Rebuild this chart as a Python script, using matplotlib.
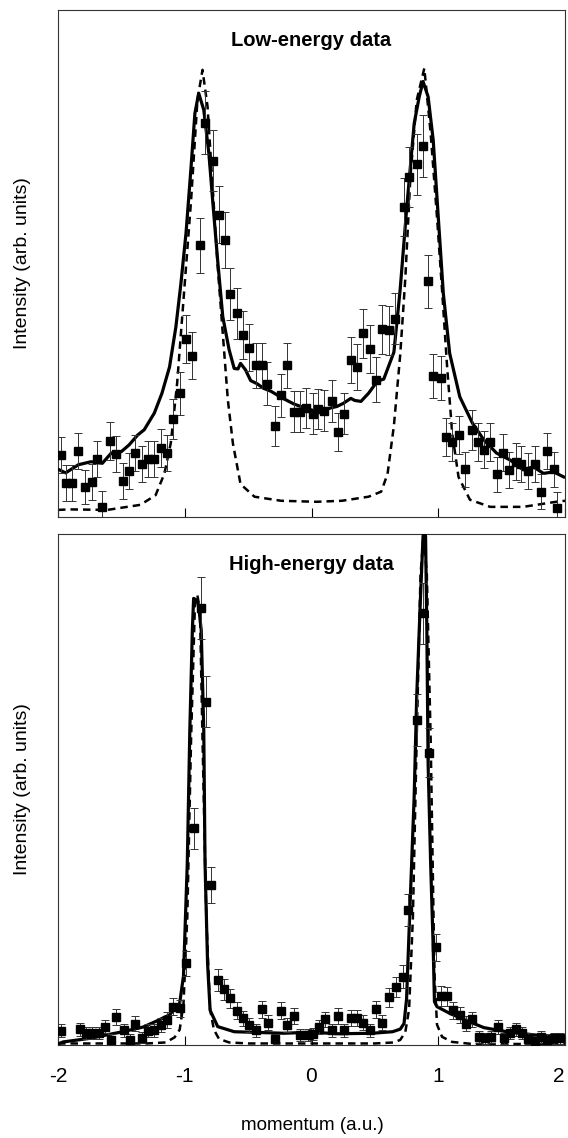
import numpy as np
import matplotlib
matplotlib.use('Agg')
import matplotlib.pyplot as plt

plt.rcParams['font.family'] = ['Liberation Sans', 'DejaVu Sans']

# ── Low-energy panel: measured points (momentum, intensity, error) ──
low_x = [-1.98, -1.94, -1.89, -1.84, -1.79, -1.73, -1.69, -1.65, -1.59, -1.54,
         -1.49, -1.44, -1.39, -1.34, -1.29, -1.24, -1.19, -1.14, -1.09, -1.04,
         -0.99, -0.94, -0.88, -0.84, -0.78, -0.73, -0.68, -0.64, -0.59, -0.54,
         -0.49, -0.44, -0.39, -0.35, -0.29, -0.24, -0.19, -0.14, -0.09, -0.04,
         0.01, 0.05, 0.10, 0.16, 0.21, 0.26, 0.31, 0.36, 0.41, 0.46,
         0.51, 0.56, 0.61, 0.66, 0.73, 0.77, 0.83, 0.88, 0.92, 0.96,
         1.02, 1.06, 1.11, 1.16, 1.21, 1.27, 1.31, 1.36, 1.41, 1.46,
         1.51, 1.56, 1.61, 1.65, 1.71, 1.76, 1.81, 1.86, 1.91, 1.94]
low_y = [12.2, 6.7, 6.7, 13.0, 5.9, 6.9, 11.4, 2.0, 15.0, 12.4,
         7.1, 9.1, 12.6, 10.5, 11.4, 11.4, 13.6, 12.6, 19.3, 24.4,
         35.1, 31.8, 53.6, 77.8, 70.3, 59.6, 54.6, 44.0, 40.2, 35.9,
         33.4, 29.9, 29.9, 26.3, 18.0, 24.0, 29.9, 20.8, 20.8, 21.5,
         20.4, 21.3, 21.0, 22.9, 16.8, 20.4, 31.0, 29.6, 36.2, 33.1,
         27.1, 37.0, 36.8, 39.1, 61.2, 67.1, 69.6, 73.2, 46.5, 27.8,
         27.4, 15.8, 14.8, 16.2, 9.4, 17.2, 14.8, 13.3, 14.8, 8.4,
         12.7, 9.3, 10.9, 10.5, 9.1, 10.5, 5.0, 13.0, 9.4, 1.7]
low_err = [3.6, 3.5, 3.5, 3.6, 3.4, 3.5, 3.6, 3.2, 3.8, 3.6,
           3.5, 3.5, 3.6, 3.6, 3.6, 3.6, 3.7, 3.6, 4.0, 4.2,
           4.8, 4.6, 5.4, 6.3, 6.0, 5.6, 5.5, 5.1, 5.0, 4.8,
           4.7, 4.5, 4.5, 4.3, 3.9, 4.2, 4.5, 4.0, 4.0, 4.0,
           4.0, 4.0, 4.0, 4.1, 3.8, 4.0, 4.6, 4.5, 4.8, 4.7,
           4.4, 4.9, 4.9, 5.0, 5.7, 5.9, 6.0, 6.1, 5.2, 4.4,
           4.4, 3.8, 3.8, 3.8, 3.5, 3.9, 3.8, 3.7, 3.8, 3.5,
           3.6, 3.5, 3.6, 3.6, 3.5, 3.6, 3.4, 3.6, 3.5, 3.2]

# full calculation (solid) and free-electron-like model (dashed)
low_fit_x = [-1.99, -1.94, -1.84, -1.74, -1.65, -1.58, -1.50, -1.44, -1.37, -1.32,
             -1.24, -1.18, -1.12, -1.07, -1.03, -0.99, -0.95, -0.92, -0.89, -0.85,
             -0.81, -0.78, -0.74, -0.70, -0.65, -0.61, -0.58, -0.56, -0.52, -0.48,
             -0.43, -0.38, -0.32, -0.24, -0.14, -0.03, 0.05, 0.15, 0.20, 0.25,
             0.31, 0.34, 0.39, 0.45, 0.52, 0.57, 0.65, 0.70, 0.75, 0.81,
             0.85, 0.88, 0.92, 0.96, 1.00, 1.04, 1.09, 1.17, 1.27, 1.36,
             1.46, 1.57, 1.67, 1.75, 1.83, 1.91, 1.99]
low_fit_y = [9.3, 8.7, 10.3, 10.9, 10.6, 12.6, 12.9, 14.2, 16.2, 17.2,
             20.5, 24.4, 29.6, 37.5, 46.1, 56.0, 69.1, 79.6, 83.6, 80.3,
             71.8, 62.5, 50.5, 39.5, 33.0, 29.3, 29.2, 30.3, 29.0, 26.9,
             26.3, 25.4, 24.8, 23.6, 22.3, 21.3, 20.8, 21.5, 21.8, 22.4,
             23.4, 23.0, 22.8, 24.4, 26.8, 27.2, 32.5, 45.0, 60.6, 77.6,
             82.9, 85.9, 82.9, 74.4, 59.2, 44.1, 32.3, 23.7, 18.5, 15.2,
             12.6, 11.2, 9.3, 9.9, 8.6, 8.9, 7.9]
low_mod_x = [-2.0, -1.91, -1.61, -1.35, -1.23, -1.16, -1.11, -1.06, -1.01, -0.95,
             -0.90, -0.86, -0.82, -0.78, -0.74, -0.70, -0.66, -0.62, -0.56, -0.45,
             -0.24, 0.04, 0.24, 0.45, 0.55, 0.60, 0.65, 0.70, 0.74, 0.78,
             0.83, 0.89, 0.94, 0.99, 1.03, 1.07, 1.11, 1.16, 1.25, 1.41,
             1.67, 1.93, 2.0]
low_mod_y = [1.4, 1.5, 1.4, 2.4, 4.3, 8.6, 14.6, 26.4, 42.8, 62.5,
             82.2, 88.2, 80.9, 65.1, 49.4, 36.2, 23.1, 14.5, 6.5, 4.0,
             3.2, 3.0, 3.2, 4.0, 5.0, 8.5, 18.0, 32.0, 47.0, 67.0,
             82.2, 88.5, 75.7, 59.2, 44.8, 29.6, 16.5, 7.9, 3.4, 2.0,
             2.0, 3.0, 3.2]

# ── High-energy panel ──
high_x = [-1.98, -1.83, -1.78, -1.73, -1.68, -1.63, -1.58, -1.54, -1.48, -1.43,
          -1.39, -1.34, -1.29, -1.24, -1.19, -1.14, -1.09, -1.04, -0.99, -0.93,
          -0.87, -0.83, -0.79, -0.74, -0.69, -0.64, -0.59, -0.54, -0.49, -0.44,
          -0.39, -0.34, -0.29, -0.24, -0.19, -0.14, -0.09, -0.03, 0.01, 0.06,
          0.11, 0.16, 0.21, 0.26, 0.31, 0.36, 0.41, 0.46, 0.51, 0.56,
          0.61, 0.67, 0.72, 0.76, 0.83, 0.88, 0.93, 0.98, 1.02, 1.07,
          1.12, 1.17, 1.22, 1.27, 1.32, 1.37, 1.42, 1.47, 1.52, 1.57,
          1.61, 1.66, 1.71, 1.76, 1.81, 1.86, 1.91, 1.96]
high_y = [2.8, 3.1, 2.3, 2.3, 2.3, 3.6, 1.0, 5.5, 2.9, 1.0,
          4.2, 1.4, 2.8, 2.9, 3.9, 4.9, 7.5, 7.2, 16.0, 42.4,
          85.5, 67.2, 31.3, 12.7, 10.9, 9.1, 6.7, 5.2, 3.9, 2.9,
          7.0, 4.4, 1.1, 6.7, 3.9, 5.7, 2.0, 2.0, 2.1, 3.5,
          5.0, 2.9, 5.7, 2.9, 5.3, 5.3, 4.4, 2.9, 7.0, 4.4,
          9.3, 11.3, 13.4, 26.4, 63.6, 84.5, 57.2, 19.1, 9.6, 9.5,
          6.8, 5.9, 4.2, 5.0, 1.6, 1.3, 1.6, 3.5, 1.3, 2.3,
          3.1, 2.4, 1.2, 0.7, 1.6, 1.0, 1.3, 1.3]
high_err = [1.3, 1.3, 1.2, 1.2, 1.2, 1.3, 1.1, 1.5, 1.3, 1.1,
            1.4, 1.1, 1.3, 1.3, 1.4, 1.5, 1.7, 1.7, 2.4, 4.0,
            6.0, 5.0, 3.5, 2.2, 2.0, 1.9, 1.7, 1.5, 1.4, 1.3,
            1.7, 1.4, 1.1, 1.7, 1.4, 1.6, 1.2, 1.2, 1.2, 1.3,
            1.5, 1.3, 1.6, 1.3, 1.5, 1.5, 1.4, 1.3, 1.7, 1.4,
            1.9, 2.0, 2.2, 3.2, 5.0, 6.0, 4.8, 2.6, 1.9, 1.9,
            1.7, 1.6, 1.4, 1.5, 1.2, 1.1, 1.2, 1.3, 1.1, 1.2,
            1.3, 1.2, 1.1, 1.1, 1.2, 1.1, 1.1, 1.1]

high_fit_x = [-1.99, -1.96, -1.75, -1.49, -1.33, -1.23, -1.12, -1.04, -1.01, -0.98,
              -0.96, -0.94, -0.93, -0.90, -0.89, -0.87, -0.85, -0.84, -0.82, -0.80,
              -0.74, -0.61, -0.22, 0.00, 0.21, 0.48, 0.64, 0.70, 0.73, 0.75,
              0.78, 0.81, 0.83, 0.86, 0.88, 0.89, 0.90, 0.91, 0.92, 0.94,
              0.96, 0.97, 0.99, 1.09, 1.23, 1.36, 1.54, 1.75, 1.99]
high_fit_y = [0.3, 0.6, 1.3, 2.6, 3.5, 4.6, 5.9, 8.2, 13.5, 35.6,
              61.6, 81.2, 87.4, 87.0, 85.8, 81.2, 61.6, 35.6, 16.0, 6.8,
              3.6, 2.6, 2.3, 2.5, 2.2, 2.3, 2.6, 3.1, 4.2, 9.0,
              29.0, 48.6, 68.2, 87.7, 99.5, 101.0, 99.5, 81.2, 55.1, 35.6,
              19.2, 8.5, 7.5, 6.2, 4.7, 3.4, 2.6, 2.0, 1.4]
high_mod_x = [-2.0, -1.30, -1.15, -1.08, -1.04, -1.01, -0.98, -0.95, -0.92, -0.90,
              -0.88, -0.86, -0.83, -0.80, -0.77, -0.73, -0.65, -0.50, 0.50, 0.65,
              0.70, 0.74, 0.77, 0.80, 0.83, 0.86, 0.885, 0.91, 0.94, 0.97,
              0.99, 1.03, 1.11, 1.27, 2.0]
high_mod_y = [0.3, 0.3, 0.5, 1.5, 3.0, 8.0, 25.0, 60.0, 86.0, 88.0,
              85.0, 60.0, 25.0, 7.0, 3.0, 1.2, 0.5, 0.3, 0.3, 0.5,
              1.0, 2.5, 7.0, 25.0, 60.0, 92.0, 100.0, 92.0, 60.0, 14.0,
              4.0, 1.6, 0.6, 0.2, 0.2]

tick_pos = [-2, -1, 0, 1, 2]
tick_lbl = ['-2', '-1', '0', '1', '2']

panels = [
    ('Low-energy data', low_x, low_y, low_err, low_fit_x, low_fit_y, low_mod_x, low_mod_y),
    ('High-energy data', high_x, high_y, high_err, high_fit_x, high_fit_y, high_mod_x, high_mod_y),
]

W, H = 568, 1138
fig = plt.figure(figsize=(W / 100, H / 100), dpi=100)
boxes = [(58, 10, 565, 517), (58, 534, 565, 1045)]   # pixel boxes l, t, r, b

for i, ((title, x, y, err, fx, fy, mx, my), (l, t, r, b)) in enumerate(zip(panels, boxes)):
    ax = fig.add_axes([l / W, 1 - b / H, (r - l) / W, (b - t) / H])
    ax.plot(mx, my, color='black', lw=1.8, ls=(0, (3, 2)), zorder=2)
    ax.plot(fx, fy, color='black', lw=2.3, zorder=3)
    ax.errorbar(x, y, yerr=err, fmt='s', color='black', ms=5.5,
                ecolor='#333333', elinewidth=0.7, capsize=2.8, capthick=0.7, zorder=4)
    ax.set_xlim(-2, 2)
    ax.set_ylim(0, 100)
    ax.set_yticks([])
    ax.set_xticks(tick_pos)
    ax.set_xticklabels(tick_lbl)
    ax.tick_params(axis='x', direction='in', length=6.5, width=0.8, pad=16,
                   labelsize=15)
    if i == 0:
        ax.tick_params(axis='x', labelbottom=False)
    else:
        ax.get_xticklabels()[-1].set_ha('right')
    for s in ax.spines.values():
        s.set_linewidth(0.8)
        s.set_color('#333333')
    ax.text(0.5, 0.94, title, transform=ax.transAxes, ha='center', va='center',
            fontsize=14.5, fontweight='bold')
    fig.text(23 / W, 1 - (t + b) / 2 / H, 'Intensity (arb. units)', rotation=90,
             ha='center', va='center', fontsize=14)

fig.text(312 / W, 1 - 1126 / H, 'momentum (a.u.)', ha='center', va='center', fontsize=13.5)

fig.savefig('out.png', dpi=100)
